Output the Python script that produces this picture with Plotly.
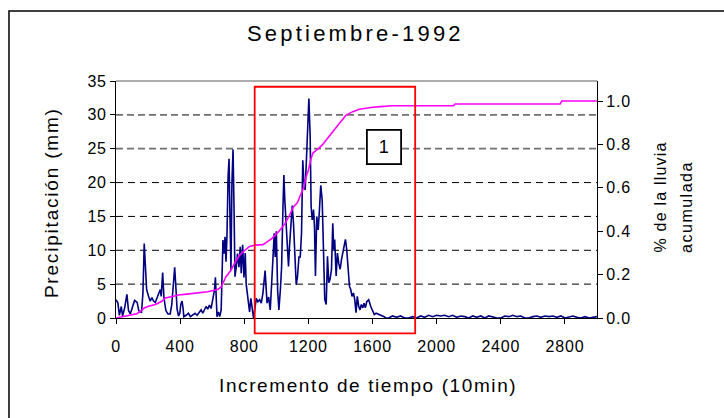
import plotly.graph_objects as go

# Rainfall per 10-minute step (mm)
time_steps = [
    0, 12, 21, 33, 41, 54, 68, 78, 89, 104, 116, 132, 142, 159, 168, 176, 182, 191,
    203, 213, 224, 234, 245, 255, 266, 276, 282, 291, 299, 311, 324, 338, 348, 359,
    366, 373, 381, 390, 398, 404, 412, 418, 423, 437, 452, 464, 479, 493, 506, 520,
    531, 541, 552, 562, 572, 583, 593, 603, 614, 620, 626, 630, 639, 647, 656, 662,
    667, 674, 680, 686, 692, 699, 705, 711, 717, 723, 730, 736, 742, 750, 758, 767,
    775, 781, 790, 798, 806, 812, 823, 833, 841, 850, 858, 866, 875, 885, 896, 906,
    916, 930, 942, 952, 962, 973, 979, 987, 993, 1000, 1008, 1016, 1025, 1033, 1041,
    1047, 1053, 1062, 1068, 1076, 1082, 1091, 1099, 1107, 1116, 1124, 1132, 1141,
    1149, 1157, 1165, 1171, 1180, 1188, 1196, 1203, 1211, 1217, 1224, 1232, 1238,
    1244, 1252, 1261, 1269, 1277, 1286, 1294, 1302, 1311, 1319, 1327, 1335, 1344,
    1352, 1358, 1364, 1373, 1381, 1389, 1398, 1406, 1414, 1423, 1431, 1439, 1448,
    1456, 1464, 1472, 1481, 1489, 1497, 1505, 1514, 1522, 1530, 1539, 1547, 1555,
    1564, 1576, 1589, 1600, 1611, 1622, 1632, 1652, 1673, 1683,
    1700, 1725, 1750, 1775, 1800, 1825, 1850, 1875, 1900, 1925, 1950, 1975, 2000,
    2025, 2050, 2075, 2100, 2125, 2150, 2175, 2200, 2225, 2250, 2275, 2300, 2325,
    2350, 2375, 2400, 2425, 2450, 2475, 2500, 2525, 2550, 2575, 2600, 2625, 2650,
    2675, 2700, 2725, 2750, 2775, 2800, 2825, 2850, 2875, 2900, 2925, 2950, 2975, 3000,
]
rain_mm = [
    2.7, 2.2, 0.4, 1.7, 0.3, 1.5, 3.5, 1.1, 0.6, 1.7, 2.6, 2.3, 1.1, 0.8, 3.7, 11.0, 8.6, 4.2,
    3.2, 2.5, 3.0, 2.5, 2.3, 3.0, 3.7, 4.2, 3.2, 6.7, 3.0, 1.1, 0.6, 0.6, 2.0, 4.9,
    7.5, 4.7, 1.3, 0.3, 0.7, 2.0, 2.5, 1.5, 0.2, 0.4, 0.7, 0.2, 0.4, 0.7, 0.4, 0.9,
    1.2, 0.7, 1.2, 1.7, 1.3, 1.9, 1.4, 2.7, 4.1, 6.0, 3.1, 0.2, 0.9, 0.2, 1.2, 5.6,
    11.5, 9.5, 12.0, 8.3, 12.0, 20.8, 23.5, 14.9, 7.1, 19.9, 24.9, 16.4, 6.1, 7.5, 9.5, 7.5,
    10.5, 6.6, 10.8, 6.0, 9.6, 5.0, 2.7, 0.9, 2.9, 1.7, 0.0, 1.4, 2.9, 2.4, 2.7, 2.2,
    3.6, 7.0, 2.2, 3.1, 1.2, 6.1, 9.5, 12.5, 9.0, 12.8, 4.1, 1.2, 4.1, 7.6, 16.0,
    21.1, 17.4, 13.0, 11.0, 7.6, 10.5, 14.0, 16.6, 14.0, 9.0, 4.9, 6.1, 9.0,
    9.0, 12.5, 23.3, 20.4, 18.9, 23.8, 27.3, 32.4, 26.8, 16.4, 14.5, 16.0, 13.5,
    6.2, 15.0, 13.0, 16.0, 19.6, 17.4, 9.1, 2.7, 2.0, 9.1, 5.2, 5.7, 7.2,
    14.0, 10.1, 11.6, 6.2, 9.6, 8.1, 7.2, 8.6, 9.6, 10.6, 11.6, 10.1, 7.2,
    4.7, 4.2, 3.2, 3.7, 2.7, 0.8, 3.2, 1.7, 1.2, 2.0, 1.5, 2.2, 1.5,
    2.4, 2.7, 1.7, 1.2, 0.5, 0.7, 0.6, 0.5, 0.2, 0.0,
    0.0, 0.3, 0.1, 0.3, 0.0, 0.0, 0.2, 0.0, 0.3, 0.1, 0.4, 0.2, 0.4,
    0.3, 0.4, 0.2, 0.4, 0.1, 0.3, 0.2, 0.0, 0.3, 0.1, 0.3, 0.0, 0.3,
    0.1, 0.0, 0.0, 0.3, 0.2, 0.4, 0.2, 0.3, 0.0, 0.0, 0.2, 0.3, 0.1,
    0.3, 0.2, 0.3, 0.1, 0.3, 0.0, 0.2, 0.3, 0.1, 0.0, 0.2, 0.0, 0.1, 0.2,
]

# Accumulated fraction of the month's rainfall
cum_steps = [
    0, 30, 58, 95, 130, 151, 176, 203, 245, 286, 307, 359, 390, 441, 500, 572, 634,
    656, 686, 717, 738, 769, 800, 833, 870, 916, 945, 973, 1014, 1055, 1080, 1107,
    1130, 1148, 1170, 1186, 1200, 1215, 1228, 1269, 1290, 1311, 1352, 1394, 1435,
    1477, 1518, 1560, 1600, 1650, 1725, 2105, 2115, 2770, 2780, 3000,
]
cum_fraction = [
    0.0, 0.005, 0.009, 0.014, 0.02, 0.03, 0.046, 0.054, 0.062, 0.077, 0.092, 0.100,
    0.106, 0.110, 0.115, 0.121, 0.131, 0.143, 0.19, 0.22, 0.25, 0.288, 0.31, 0.33,
    0.336, 0.338, 0.352, 0.367, 0.398, 0.436, 0.47, 0.513, 0.53, 0.56, 0.60, 0.651,
    0.682, 0.73, 0.76, 0.785, 0.80, 0.82, 0.86, 0.897, 0.935, 0.951, 0.962, 0.967,
    0.971, 0.974, 0.978, 0.978, 0.986, 0.986, 1.0, 1.0,
]

x_ticks = [0, 400, 800, 1200, 1600, 2000, 2400, 2800]
y_ticks = [0, 5, 10, 15, 20, 25, 30, 35]
y2_ticks = [0.0, 0.2, 0.4, 0.6, 0.8, 1.0]
grid_levels_dark = [5, 10, 15, 20]
grid_levels_grey = [25, 30]

# Highlighted storm window (x in time steps, y in mm)
storm_x = [865, 1866]
storm_y = [-2.26, 34.15]
event_label = "1"
event_pos = [1672, 25.25]

X_MAX = 3000
Y_MAX = 35
Y2_MAX = 1.0922

FONT = "Liberation Sans, Arial, sans-serif"


def spaced(text, px):
    """Wrap text in a span with extra letter spacing."""
    return f"<span style='letter-spacing:{px}px'>{text}</span>"


fig = go.Figure()
fig.add_trace(go.Scatter(
    x=time_steps, y=rain_mm, mode="lines",
    line=dict(color="#000080", width=1.6), yaxis="y", showlegend=False,
))
fig.add_trace(go.Scatter(
    x=cum_steps, y=cum_fraction, mode="lines",
    line=dict(color="#FF00FF", width=1.6), yaxis="y2", showlegend=False,
))

shapes = []
for lv in grid_levels_dark:
    shapes.append(dict(type="line", xref="paper", yref="y", x0=0, x1=1, y0=lv, y1=lv,
                       line=dict(color="black", width=1, dash="7px,5px"), layer="below"))
for lv in grid_levels_grey:
    shapes.append(dict(type="line", xref="paper", yref="y", x0=0, x1=1, y0=lv, y1=lv,
                       line=dict(color="#707070", width=1.8, dash="7px,4px"), layer="below"))
# grey frame on top of the plot area
shapes.append(dict(type="line", xref="paper", yref="paper", x0=0, x1=1, y0=1, y1=1,
                   line=dict(color="#909090", width=1.5)))
# storm window
shapes.append(dict(type="rect", xref="x", yref="paper",
                   x0=storm_x[0], x1=storm_x[1],
                   y0=storm_y[0] / Y_MAX, y1=storm_y[1] / Y_MAX,
                   line=dict(color="#FF0000", width=1.8), layer="above"))
# outer chart border
shapes.append(dict(type="rect", xref="paper", yref="paper",
                   x0=-0.2225, x1=1.6, y0=-0.8, y1=1.2954,
                   line=dict(color="black", width=1.5), layer="above"))

annotations = [
    dict(text=spaced("Septiembre-1992", 3.2), xref="paper", yref="paper", x=0.497, y=1.2025,
         showarrow=False, font=dict(family=FONT, size=22, color="black"),
         xanchor="center", yanchor="middle"),
    dict(text=spaced("Precipitación (mm)", 1.8), xref="paper", yref="paper", x=-0.135, y=0.485,
         textangle=-90, showarrow=False, font=dict(family=FONT, size=19, color="black"),
         xanchor="center", yanchor="middle"),
    dict(text=spaced("Incremento de tiempo (10min)", 1.6), xref="paper", yref="paper",
         x=0.524, y=-0.283, showarrow=False, font=dict(family=FONT, size=19, color="black"),
         xanchor="center", yanchor="middle"),
    dict(text=spaced("% de la lluvia", 1.2), xref="paper", yref="paper", x=1.131, y=0.266,
         textangle=-90, showarrow=False, font=dict(family=FONT, size=16, color="black"),
         xanchor="center", yanchor="bottom"),
    dict(text=spaced("acumulada", 1.5), xref="paper", yref="paper", x=1.187, y=0.266,
         textangle=-90, showarrow=False, font=dict(family=FONT, size=16, color="black"),
         xanchor="center", yanchor="bottom"),
    dict(text=event_label, xref="x", yref="y", x=event_pos[0], y=event_pos[1],
         showarrow=False, font=dict(family=FONT, size=18, color="black"),
         bgcolor="white", bordercolor="black", borderwidth=1.8,
         width=30, height=30, xanchor="center", yanchor="middle"),
]

tick_font = dict(family=FONT, size=16, color="black")
TICK_SP = 0.8

fig.update_layout(
    width=724, height=418,
    margin=dict(l=116, r=127, t=81, b=100, pad=0),
    paper_bgcolor="white", plot_bgcolor="white",
    shapes=shapes, annotations=annotations,
    xaxis=dict(range=[0, X_MAX], tickvals=x_ticks,
               ticktext=[spaced(str(v), TICK_SP) for v in x_ticks],
               ticks="outside", ticklen=5,
               tickcolor="black", showline=True, linecolor="black", linewidth=1,
               showgrid=False, zeroline=False, tickfont=tick_font,
               ticklabelstandoff=9),
    yaxis=dict(range=[0, Y_MAX], tickvals=y_ticks,
               ticktext=[spaced(str(v), TICK_SP) for v in y_ticks],
               ticks="outside", ticklen=5,
               tickcolor="black", showline=True, linecolor="black", linewidth=1,
               showgrid=False, zeroline=False, tickfont=tick_font),
    yaxis2=dict(range=[0, Y2_MAX], tickvals=y2_ticks,
                ticktext=[spaced(f"{v:.1f}", TICK_SP) for v in y2_ticks],
                overlaying="y", side="right", ticks="outside", ticklen=5,
                tickcolor="black", showline=True, linecolor="black", linewidth=1,
                showgrid=False, zeroline=False, tickfont=tick_font),
)

fig.write_html("out.html")
